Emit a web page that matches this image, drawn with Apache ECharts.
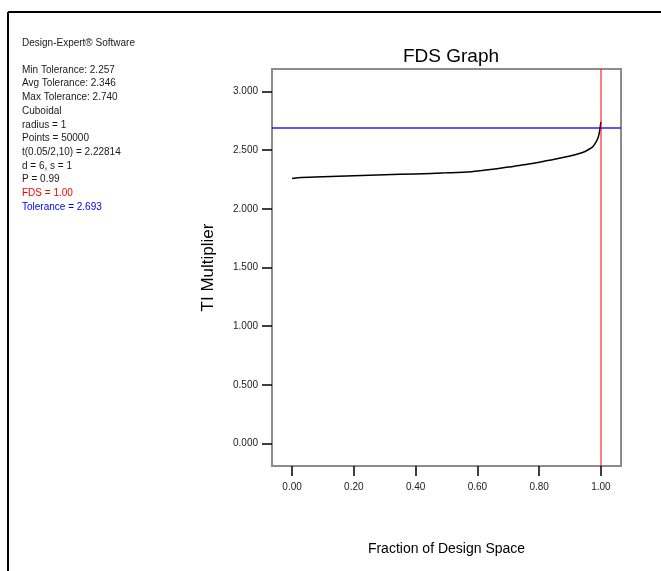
<!DOCTYPE html>
<html>
<head>
<meta charset="utf-8">
<script src="https://cdn.jsdelivr.net/npm/echarts@6/dist/echarts.min.js"></script>
<style>
html,body{margin:0;padding:0;background:#fff;}
#chart{width:661px;height:571px;}
</style>
</head>
<body>
<div id="chart"></div>
<script>
// ---- data ----
const fdsX = [0, 0.02, 0.1, 0.2, 0.3, 0.4, 0.5, 0.58, 0.65, 0.7, 0.75, 0.8, 0.85, 0.9, 0.93, 0.95, 0.97, 0.98, 0.99, 0.995, 1.0];
const tiMult = [2.257, 2.265, 2.272, 2.281, 2.289, 2.297, 2.306, 2.316, 2.336, 2.355, 2.374, 2.397, 2.421, 2.449, 2.470, 2.490, 2.520, 2.550, 2.600, 2.650, 2.740];
const xTicks = [0, 0.2, 0.4, 0.6, 0.8, 1.0];
const yTicks = [0, 0.5, 1.0, 1.5, 2.0, 2.5, 3.0];
const fdsValue = 1.00;
const toleranceValue = 2.693;
const infoLines = [
  'Min Tolerance: 2.257',
  'Avg Tolerance: 2.346',
  'Max Tolerance: 2.740',
  'Cuboidal',
  'radius = 1',
  'Points = 50000',
  't(0.05/2,10) = 2.22814',
  'd = 6, s = 1',
  'P = 0.99',
  'FDS = 1.00',
  'Tolerance = 2.693'
];
const infoColors = ['#1a1a1a','#1a1a1a','#1a1a1a','#1a1a1a','#1a1a1a','#1a1a1a','#1a1a1a','#1a1a1a','#1a1a1a','#ff0000','#0000ff'];

const FONT = '"Liberation Sans", Arial, sans-serif';
const chart = echarts.init(document.getElementById('chart'), null, {renderer:'canvas'});

const graphics = [
  {type:'line', shape:{x1:8, y1:12, x2:661, y2:12}, style:{stroke:'#000', lineWidth:2}},
  {type:'line', shape:{x1:8, y1:12, x2:8, y2:571}, style:{stroke:'#000', lineWidth:2}},
  {type:'text', left:22, top:38, style:{text:'Design-Expert® Software', font:'10px ' + FONT, fill:'#1a1a1a'}}
];
infoLines.forEach((t, i) => {
  graphics.push({type:'text', left:22, top:65 + i*13.7, style:{text:t, font:'10px ' + FONT, fill:infoColors[i]}});
});

chart.setOption({
  animation:false,
  backgroundColor:'#fff',
  title:{text:'FDS Graph', left:446, top:42, textAlign:'center',
    textStyle:{fontFamily:FONT, fontSize:19, fontWeight:'normal', color:'#000'}},
  grid:{left:272, right:40, top:69, bottom:105, show:true, borderColor:'#8c8c8c', borderWidth:2, backgroundColor:'transparent'},
  xAxis:{type:'value', min:-0.065, max:1.065,
    name:'Fraction of Design Space', nameLocation:'middle', nameGap:76,
    nameTextStyle:{fontFamily:FONT, fontSize:14, color:'#000'},
    axisLine:{show:false, onZero:false},
    axisTick:{show:true, length:10, lineStyle:{color:'#000', width:1.5}, customValues:xTicks},
    axisLabel:{customValues:xTicks, formatter:v=>v.toFixed(2), fontFamily:FONT, fontSize:10, color:'#222', margin:16},
    splitLine:{show:false}},
  yAxis:{type:'value', min:-0.19, max:3.19,
    name:'TI Multiplier', nameLocation:'middle', nameGap:55, nameRotate:90,
    nameTextStyle:{fontFamily:FONT, fontSize:17, color:'#000'},
    axisLine:{show:false, onZero:false},
    axisTick:{show:true, length:10, lineStyle:{color:'#000', width:1.5}, customValues:yTicks},
    axisLabel:{customValues:yTicks, formatter:v=>v.toFixed(3), fontFamily:FONT, fontSize:10, color:'#222', margin:14},
    splitLine:{show:false}},
  graphic:graphics,
  series:[{
    type:'line', data:fdsX.map((x,i)=>[x, tiMult[i]]), smooth:0.3, showSymbol:false,
    lineStyle:{color:'#000', width:1.5}, z:2,
    markLine:{silent:true, symbol:'none', label:{show:false}, z:3,
      data:[
        {xAxis:fdsValue, lineStyle:{color:'rgba(255,0,0,0.5)', width:2, type:'solid'}},
        {yAxis:toleranceValue, lineStyle:{color:'rgba(0,0,255,0.65)', width:2, type:'solid'}}
      ]}
  }]
});
</script>
</body>
</html>
